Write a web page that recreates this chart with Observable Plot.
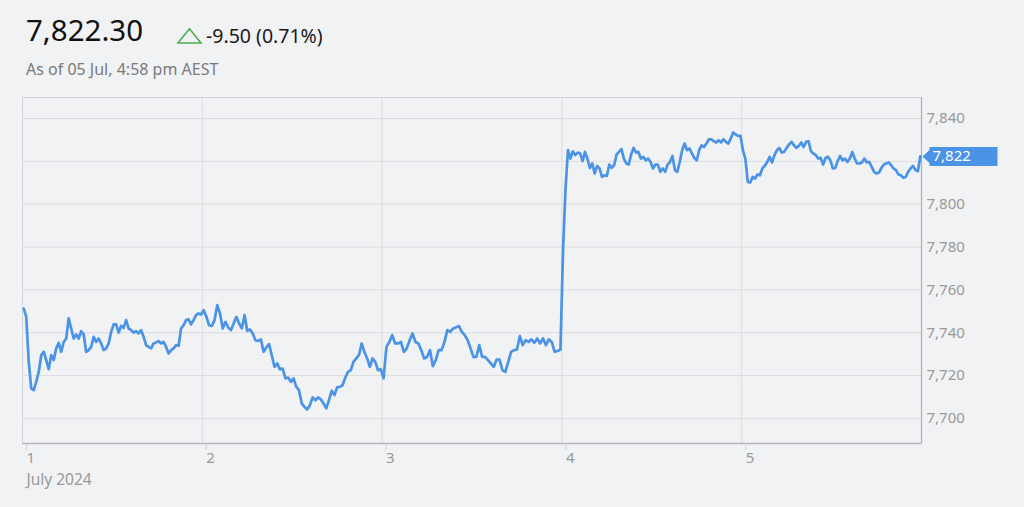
<!DOCTYPE html>
<html>
<head>
<meta charset="utf-8">
<script src="https://cdn.jsdelivr.net/npm/d3@7"></script>
<script src="https://cdn.jsdelivr.net/npm/@observablehq/plot@0.6"></script>
<style>
  html, body { margin: 0; padding: 0; background: #f1f2f4; width: 1024px; height: 507px; overflow: hidden; }
  #header { position: absolute; left: 0; top: 0; }
  #chart { position: absolute; left: 0; top: 90px; }
</style>
</head>
<body>
<svg id="header" width="1024" height="90" font-family="'Noto Sans', 'Open Sans', sans-serif">
  <text id="price" x="26" y="41" font-size="29.5" fill="#111"></text>
  <path d="M178,43 L189.5,28.8 L201,43 Z" fill="none" stroke="#4caf50" stroke-width="1.6" stroke-linejoin="miter"></path>
  <text id="change" x="206" y="42.5" font-size="19.5" fill="#1a1a1a"></text>
  <text id="asof" x="26" y="75" font-size="16" fill="#7a7a7a"></text>
</svg>
<div id="chart"></div>
<script>
// ---- data ----
const headlinePrice = "7,822.30";
const headlineChange = "-9.50 (0.71%)";
const asOfText = "As of 05 Jul, 4:58 pm AEST";
const periodLabel = "July 2024";

const days = [1, 2, 3, 4, 5];
const yTicks = [7700, 7720, 7740, 7760, 7780, 7800, 7820, 7840];
// the 7,820 label sits under the price tag in the reference
const yLabelTicks = [7700, 7720, 7740, 7760, 7780, 7800, 7840];

const day1 = [7751.3, 7747.4, 7726.4, 7714.0, 7713.2, 7717.1, 7721.7, 7729.5, 7731.1, 7727.2, 7723.0, 7729.5, 7727.2, 7732.7, 7735.3, 7731.1, 7735.7, 7737.3, 7746.7, 7742.0, 7737.3, 7739.2, 7737.3, 7740.7, 7739.2, 7731.1, 7731.9, 7733.4, 7738.1, 7735.7, 7737.3, 7735.0, 7731.9, 7732.7, 7735.0, 7740.4, 7743.9, 7743.9, 7740.1, 7743.2, 7742.3, 7745.9, 7742.0, 7741.2, 7740.1, 7740.7, 7739.7, 7741.2, 7738.1, 7734.2, 7733.4, 7732.7, 7735.0, 7735.5, 7736.1, 7735.0, 7735.7, 7733.4, 7730.3, 7731.9, 7732.7, 7734.2, 7733.9, 7742.0, 7743.5, 7745.9, 7746.3, 7743.9, 7745.9, 7748.2, 7749.0, 7748.5];

const day2 = [7750.5, 7747.4, 7743.5, 7743.2, 7745.9, 7752.9, 7749.0, 7742.0, 7745.1, 7742.5, 7741.2, 7744.3, 7747.4, 7744.3, 7742.0, 7748.2, 7740.9, 7741.5, 7739.7, 7736.5, 7736.2, 7736.9, 7731.1, 7733.1, 7734.7, 7729.5, 7724.1, 7725.7, 7722.9, 7723.3, 7718.7, 7719.1, 7717.1, 7718.7, 7714.7, 7713.2, 7707.0, 7705.4, 7704.2, 7706.2, 7709.8, 7708.5, 7709.8, 7708.9, 7707.0, 7704.7, 7708.5, 7712.9, 7710.9, 7714.5, 7714.7, 7715.5, 7719.1, 7721.7, 7722.5, 7726.4, 7728.0, 7729.5, 7735.0, 7731.1, 7728.0, 7724.1, 7728.0, 7726.4, 7722.5, 7723.0];

const day3 = [7718.7, 7733.4, 7735.7, 7738.9, 7735.0, 7735.0, 7735.7, 7731.1, 7732.7, 7736.5, 7739.7, 7735.7, 7735.0, 7731.9, 7728.0, 7728.7, 7731.9, 7724.4, 7727.2, 7731.9, 7731.9, 7735.7, 7741.2, 7740.4, 7742.0, 7742.5, 7743.1, 7740.4, 7738.9, 7736.5, 7732.7, 7728.7, 7728.7, 7734.2, 7728.7, 7728.7, 7727.2, 7725.7, 7724.1, 7727.5, 7727.5, 7722.5, 7721.7, 7726.4, 7731.1, 7731.9, 7732.2, 7738.4, 7734.2, 7736.5, 7735.7, 7736.9, 7735.3, 7737.3, 7735.0, 7737.3, 7734.2, 7736.9, 7735.7, 7731.1, 7731.5, 7732.2];

const day4 = [7779.9, 7807.3, 7825.2, 7821.3, 7824.7, 7822.9, 7824.1, 7823.7, 7820.1, 7824.4, 7821.3, 7816.9, 7819.0, 7814.3, 7817.9, 7816.7, 7812.7, 7813.5, 7813.2, 7818.5, 7816.9, 7818.2, 7823.2, 7824.4, 7825.7, 7821.3, 7819.0, 7818.5, 7823.2, 7826.3, 7824.1, 7824.4, 7821.3, 7822.1, 7820.5, 7821.3, 7819.7, 7816.7, 7818.5, 7818.5, 7815.1, 7816.7, 7815.1, 7818.5, 7819.7, 7822.5, 7815.9, 7815.1, 7819.7, 7825.2, 7828.3, 7825.2, 7826.0, 7823.7, 7821.6, 7820.5, 7825.2, 7827.5, 7826.7, 7828.3, 7830.3, 7830.3, 7829.4, 7828.8, 7829.9, 7828.8, 7830.3, 7829.1, 7828.3, 7830.7, 7833.5, 7832.5, 7831.9, 7831.9];

const day5 = [7825.2, 7821.3, 7810.4, 7810.1, 7812.7, 7812.0, 7813.9, 7813.5, 7816.7, 7817.9, 7819.7, 7822.1, 7819.5, 7822.9, 7825.2, 7826.3, 7824.1, 7824.4, 7826.3, 7827.9, 7829.1, 7827.5, 7826.3, 7827.2, 7828.8, 7826.7, 7829.1, 7829.4, 7824.7, 7823.7, 7822.9, 7821.3, 7821.6, 7818.5, 7821.6, 7822.1, 7820.5, 7816.7, 7816.9, 7820.1, 7822.5, 7820.5, 7821.3, 7819.7, 7821.3, 7824.4, 7821.3, 7819.0, 7819.0, 7819.5, 7821.3, 7819.5, 7819.7, 7817.4, 7815.1, 7814.3, 7814.8, 7816.9, 7818.5, 7819.0, 7819.5, 7818.2, 7816.7, 7815.9, 7813.9, 7813.5, 7812.3, 7812.7, 7815.1, 7816.7, 7817.9, 7815.9, 7815.4, 7822.3];

// ---- build table ----
const perDay = [day1, day2, day3, day4, day5];
const series = perDay.flatMap((vals, k) =>
  vals.map((v, i) => ({ t: days[k] + (i + 0.5) / vals.length, v })));
const last = series[series.length - 1];

document.getElementById("price").textContent = headlinePrice;
document.getElementById("change").textContent = headlineChange;
document.getElementById("asof").textContent = asOfText;

const lineColor = "#4a93e6";
const gridColor = "#dcdde0";

// price-tag shape (pointer + box), drawn relative to its anchor point
const tagSymbol = {
  draw(context) {
    context.moveTo(0, 0);
    context.lineTo(7, -6.5);
    context.lineTo(7, -9.5);
    context.lineTo(75, -9.5);
    context.lineTo(75, 9.5);
    context.lineTo(7, 9.5);
    context.lineTo(7, 6.5);
    context.closePath();
  }
};

const chart = Plot.plot({
  width: 1024,
  height: 417,
  marginLeft: 22,
  marginRight: 103,
  marginTop: 7,
  marginBottom: 64,
  style: { background: "transparent", fontFamily: "'Noto Sans', 'Open Sans', sans-serif", fontSize: "15px", color: "#999" },
  x: { type: "linear", domain: [1, 6] },
  y: { domain: [7688.3, 7849.8] },
  marks: [
    Plot.gridY(yTicks, { stroke: gridColor, strokeOpacity: 1 }),
    Plot.gridX(days, { stroke: gridColor, strokeOpacity: 1 }),
    Plot.frame({ stroke: "#d2d3d6" }),
    Plot.ruleX([6], { stroke: "#aeb0b3", strokeWidth: 1.2 }),
    Plot.ruleY([7688.3], { stroke: "#b4b6b9", strokeWidth: 1.6 }),
    Plot.axisX({ ticks: days, tickSize: 7, tickPadding: 2, tickFormat: d => String(d), textAnchor: "start", dx: 4, stroke: "#cfd0d3", fill: "#999", fontSize: 15, label: null }),
    Plot.axisY({ anchor: "right", ticks: yLabelTicks, tickSize: 0, tickPadding: 5, tickFormat: d3.format(","), fill: "#999", fontSize: 15, label: null }),
    Plot.text([periodLabel], { frameAnchor: "bottom-left", textAnchor: "start", dx: 4, dy: 41, fill: "#999", fontSize: 15.5 }),
    Plot.line(series, { x: "t", y: "v", stroke: lineColor, strokeWidth: 2.7, strokeLinejoin: "round", curve: "linear" }),
    Plot.dot([last], { y: "v", frameAnchor: "right", symbol: tagSymbol, fill: lineColor, stroke: null, dx: 1 }),
    Plot.text([last], { y: "v", frameAnchor: "right", text: d => d3.format(",.0f")(d.v), textAnchor: "start", dx: 11, fill: "white", fontSize: 15 })
  ]
});
document.getElementById("chart").appendChild(chart);
</script>
</body>
</html>
